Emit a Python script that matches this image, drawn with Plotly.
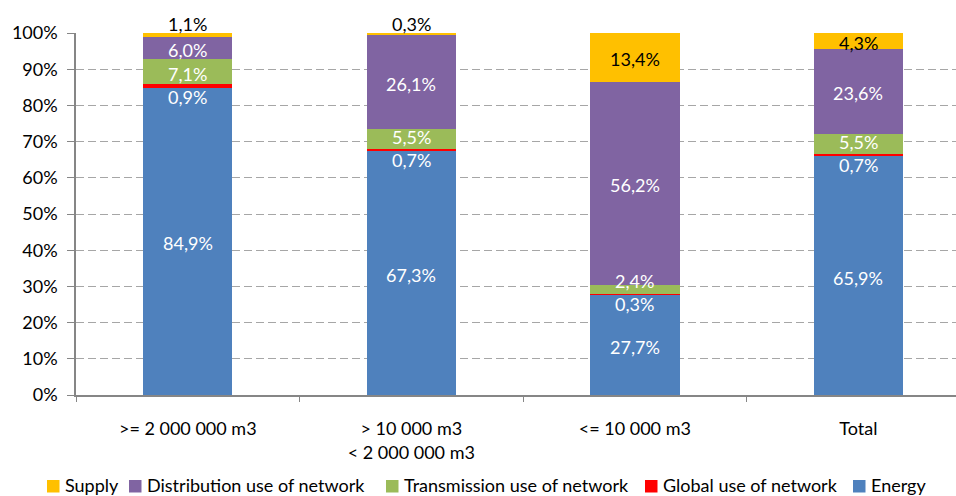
import plotly.graph_objects as go

# Share of each price component per consumption band (%)
categories = [">= 2 000 000 m3", "> 10 000 m3<br>< 2 000 000 m3", "<= 10 000 m3", "Total"]
energy = [84.9, 67.3, 27.7, 65.9]
global_use = [0.9, 0.7, 0.3, 0.7]
transmission = [7.1, 5.5, 2.4, 5.5]
distribution = [6.0, 26.1, 56.2, 23.6]
supply = [1.1, 0.3, 13.4, 4.3]

FONT = "Lato, Carlito, Calibri, sans-serif"
FS = 18
PLOT_L, PLOT_T, PLOT_B, W, H = 76, 33, 395, 956, 496
PLOT_W, PLOT_H = W - PLOT_L, PLOT_B - PLOT_T
PX_PER_PCT = PLOT_H / 100

series = [
    ("Energy", energy, "#4F81BD"),
    ("Global use of network", global_use, "#FF0000"),
    ("Transmission use of network", transmission, "#9BBB59"),
    ("Distribution use of network", distribution, "#8064A2"),
    ("Supply", supply, "#FFC000"),
]

fig = go.Figure()
for name, vals, color in series:
    fig.add_trace(go.Bar(
        x=categories, y=vals, name=name, width=0.4,
        marker=dict(color=color, line=dict(width=0)),
        hoverinfo="skip", showlegend=False,
    ))


def fmt(v):
    return f"{v:.1f}".replace(".", ",") + "%"


annotations = []
for i, cat in enumerate(categories):
    # Energy
    annotations.append(dict(x=cat, y=energy[i] / 2, text=fmt(energy[i]),
                            font=dict(color="white")))
    base = energy[i]
    # Global use of network: label hangs just below the thin red band
    annotations.append(dict(x=cat, y=base, yanchor="top", yshift=4,
                            text=fmt(global_use[i]), font=dict(color="white")))
    base += global_use[i]
    # Transmission: centred, but kept clear of the label underneath
    center = base + transmission[i] / 2
    ty = max(center, energy[i] + 16 / PX_PER_PCT)
    annotations.append(dict(x=cat, y=ty, text=fmt(transmission[i]),
                            font=dict(color="white")))
    base += transmission[i]
    # Distribution
    annotations.append(dict(x=cat, y=base + distribution[i] / 2,
                            text=fmt(distribution[i]), font=dict(color="white")))
    base += distribution[i]
    # Supply: small values sit above the bar
    if supply[i] < 2:
        annotations.append(dict(x=cat, y=100, yanchor="bottom", yshift=-4,
                                text=fmt(supply[i]), font=dict(color="black")))
    else:
        annotations.append(dict(x=cat, y=base + supply[i] / 2,
                                text=fmt(supply[i]), font=dict(color="black")))

for a in annotations:
    a.update(xref="x", yref="y", showarrow=False)
    a.setdefault("yanchor", "middle")
    a.setdefault("yshift", -2)
    a["font"].update(family=FONT, size=FS)


# Legend row along the bottom: colour square followed by the series name
def px_x(p):
    return (p - PLOT_L) / PLOT_W


def px_y(p):
    return (PLOT_B - p) / PLOT_H


legend_items = list(reversed(series))
square_left = [47, 129, 386, 645, 853]
legend_y = 485
shapes = []
for (name, _, color), sx in zip(legend_items, square_left):
    shapes.append(dict(type="rect", xref="paper", yref="paper",
                       x0=px_x(sx), x1=px_x(sx + 12.5),
                       y0=px_y(legend_y + 7.5), y1=px_y(legend_y - 5),
                       fillcolor=color, line=dict(width=0)))
    annotations.append(dict(xref="paper", yref="paper", x=px_x(sx + 17),
                            y=px_y(legend_y), xanchor="left", yanchor="middle",
                            text=name, showarrow=False, borderpad=0,
                            font=dict(family=FONT, size=FS, color="black")))

fig.update_layout(
    barmode="stack",
    width=W, height=H,
    margin=dict(l=PLOT_L, r=0, t=PLOT_T, b=H - PLOT_B),
    paper_bgcolor="white", plot_bgcolor="white",
    font=dict(family=FONT, size=FS, color="black"),
    annotations=annotations,
    shapes=shapes,
    showlegend=False,
    xaxis=dict(
        type="category",
        range=[-0.5, 3.437],
        showline=True, linecolor="#868686", linewidth=1.5,
        ticks="outside", tickson="boundaries", ticklen=5, tickcolor="#868686",
        showgrid=False, zeroline=False, ticklabelstandoff=17,
        tickfont=dict(family=FONT, size=FS, color="black"),
        fixedrange=True,
    ),
    yaxis=dict(
        range=[0, 100], dtick=10, ticksuffix="%",
        showline=True, linecolor="#868686", linewidth=1.5,
        ticks="outside", ticklen=7, tickcolor="#868686",
        showgrid=True, gridcolor="#A6A6A6", gridwidth=1.2, griddash="8px,4px",
        zeroline=False, ticklabelstandoff=6,
        tickfont=dict(family=FONT, size=FS, color="black"),
        fixedrange=True,
    ),
)

fig.write_html("out.html", config={"displayModeBar": False})
